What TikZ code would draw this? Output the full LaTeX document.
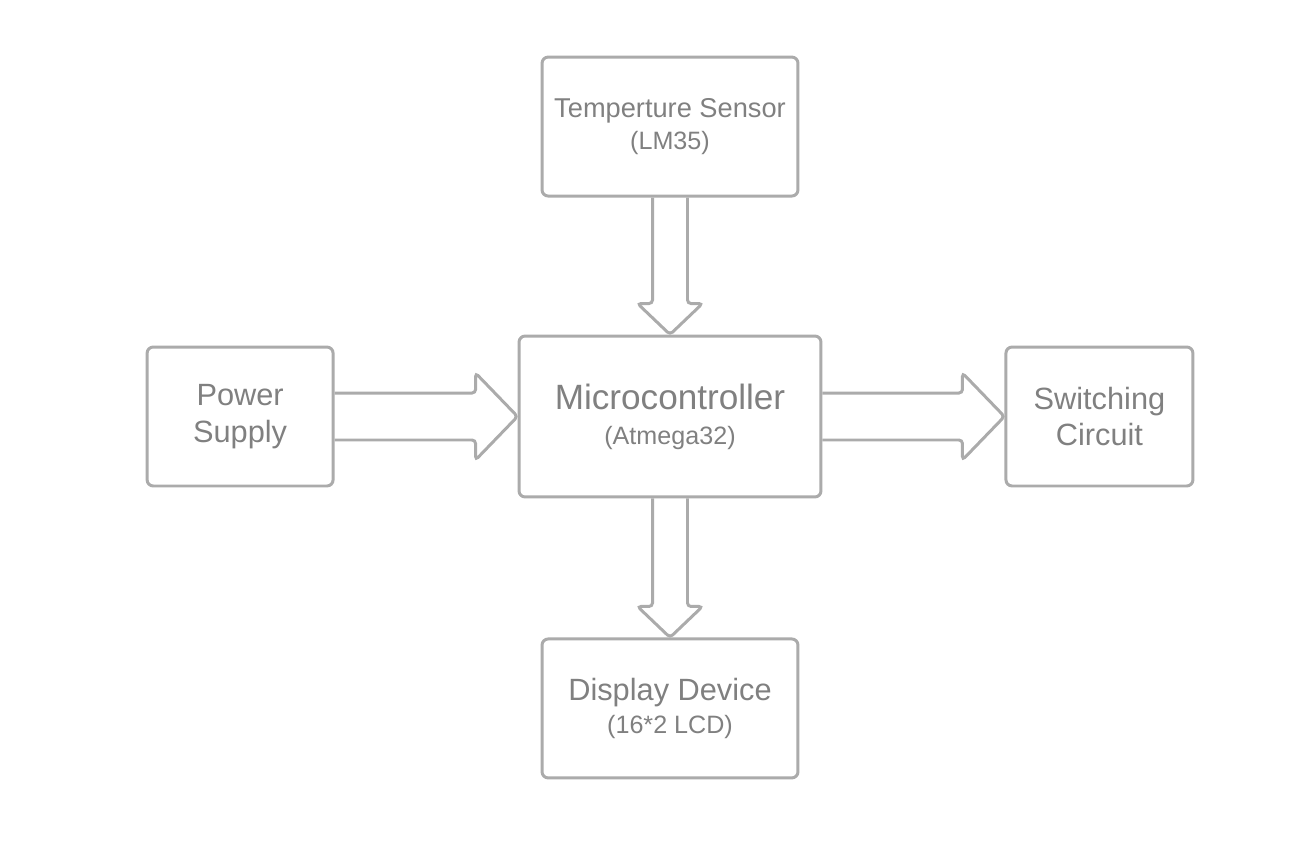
\documentclass[tikz,border=0pt]{standalone}
\usepackage{fontspec}
\setmainfont{Liberation Sans}
\usetikzlibrary{calc}
\usetikzlibrary{positioning}
\definecolor{boxline}{HTML}{ABABAB}
\definecolor{boxtext}{HTML}{808080}
\tikzset{
  block/.style = {draw = boxline, line width = 1.7pt, rounded corners = 3.5pt, text = boxtext, align = center, inner sep = 0pt},
  fatarrow/.style n args = {3}{draw = boxline, line width = 1.7pt, rounded corners = 2pt,
    to path = {let \p1 = (\tikztostart), \p2 = (\tikztotarget), \n1 = {atan2(\y2-\y1,\x2-\x1)} in
      ($(\p1)+(\n1+90:#1)$) -- ($(\p2)+(\n1+180:#3)+(\n1+90:#1)$) -- ($(\p2)+(\n1+180:#3)+(\n1+90:#2)$)
      -- (\p2) -- ($(\p2)+(\n1+180:#3)+(\n1-90:#2)$) -- ($(\p2)+(\n1+180:#3)+(\n1-90:#1)$) -- ($(\p1)+(\n1-90:#1)$)}},
  big/.style = {font = \fontsize{17.5}{21}\selectfont}
}
\newcommand{\sub}[1]{{\fontsize{14.3}{18}\selectfont #1}}

\begin{document}
\begin{tikzpicture}[x = 0.02cm, y = -0.02cm, on grid]
			\useasboundingbox (0,0) rectangle (1298,842);
			\node (mcu) [block, minimum width = 6.04cm, minimum height = 3.22cm] at (670,416.5)
				{{\fontsize{20}{23}\selectfont Microcontroller}\\[8pt]\sub{(Atmega32)}};
			\node (sensor) [block, above = 5.8cm of mcu, minimum width = 5.12cm, minimum height = 2.78cm, font = \fontsize{15.5}{19}\selectfont]
				{Temperture Sensor\\[-1pt]\sub{(LM35)}};
			\node (lcd) [block, below = 5.84cm of mcu, minimum width = 5.12cm, minimum height = 2.78cm, big]
				{Display Device\\[-2.5pt]\sub{(16*2 LCD)}};
			\node (power) [block, left = 8.6cm of mcu, minimum width = 3.72cm, minimum height = 2.78cm, big]
				{Power\\[0pt]Supply};
			\node (switch) [block, right = 8.59cm of mcu, minimum width = 3.74cm, minimum height = 2.78cm, big]
				{Switching\\[0pt]Circuit};
			% block arrows
			\draw[fatarrow = {0.47cm}{0.87cm}{0.84cm}] (power.east) to (mcu.west);
			\draw[fatarrow = {0.47cm}{0.87cm}{0.84cm}] (mcu.east) to (switch.west);
			\draw[fatarrow = {0.35cm}{0.65cm}{0.62cm}] (sensor.south) to (mcu.north);
			\draw[fatarrow = {0.35cm}{0.65cm}{0.62cm}] (mcu.south) to (lcd.north);
\end{tikzpicture}
\end{document}
